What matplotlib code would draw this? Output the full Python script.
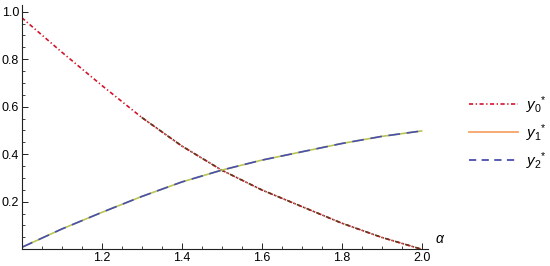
import matplotlib
matplotlib.use("Agg")
import numpy as np
import matplotlib.pyplot as plt
from matplotlib.lines import Line2D
from matplotlib.ticker import MultipleLocator

plt.rcParams['font.family'] = ['Liberation Sans', 'DejaVu Sans']
plt.rcParams['mathtext.fontset'] = 'custom'
plt.rcParams['mathtext.it'] = 'Liberation Sans:italic'
plt.rcParams['mathtext.rm'] = 'Liberation Sans'

# valores
alpha = [1.0, 1.1, 1.2, 1.3, 1.4, 1.5, 1.6, 1.7, 1.8, 1.9, 2.0]
y0 = [0.975, 0.830, 0.690, 0.555, 0.435, 0.333, 0.250, 0.180, 0.110, 0.050, 0.0]
y1 = [0.008, 0.085, 0.155, 0.222, 0.283, 0.333, 0.375, 0.410, 0.445, 0.475, 0.498]
y2 = [0.008, 0.085, 0.155, 0.222, 0.283, 0.333, 0.375, 0.410, 0.445, 0.475, 0.498]
labels = [r'$y_0{}^{*}$', r'$y_1{}^{*}$', r'$y_2{}^{*}$']

vermelho = '#d3142b'
marrom = '#5e3c1c'
laranja = '#f5a468'
verde = '#b9c455'
azul = '#4a4fae'

fig = plt.figure(figsize=(5.5, 2.66), dpi=100)
ax = fig.add_axes([0.0395, 0.063, 0.7387, 0.918])

# y0 (vermelho, depois fica escuro)
ax.plot(alpha, y0, color=vermelho, lw=1.2, dashes=(2.5, 1.5, 0.8, 1.5))
a = np.array(alpha)
m = a >= 1.3
ax.plot(a[m], np.array(y0)[m], color=marrom, lw=1.2, dashes=(2.5, 1.5, 0.8, 1.5))
# y1 e y2 sobrepostos
ax.plot(alpha, y1, color=verde, lw=1.2)
ax.plot(alpha, y2, color=azul, lw=1.2, dashes=(7, 4))

ax.set_xlim(1.0, 2.016)
ax.set_ylim(0, 1.028)
for s in ['top', 'right']:
    ax.spines[s].set_visible(False)
for s in ['left', 'bottom']:
    ax.spines[s].set_linewidth(0.8)
    ax.spines[s].set_color('#222222')

ax.xaxis.set_minor_locator(MultipleLocator(0.05))
ax.yaxis.set_minor_locator(MultipleLocator(0.05))
ax.set_xticks([1.2, 1.4, 1.6, 1.8, 2.0])
ax.set_xticklabels(['1.2', '1.4', '1.6', '1.8', '2.0'])
ax.set_yticks([0.2, 0.4, 0.6, 0.8, 1.0])
ax.set_yticklabels(['0.2', '0.4', '0.6', '0.8', '1.0'])
ax.tick_params(which='major', direction='in', length=4, width=0.7, labelsize=9, pad=2, color='#222222')
ax.tick_params(which='minor', direction='in', length=2.5, width=0.6, color='#222222')

ax.text(2.033, 0.045, r'$\alpha$', fontsize=10, ha='left', va='center')

handles = [Line2D([], [], color=vermelho, lw=1.2, dashes=(2.5, 1.5, 0.8, 1.5)),
           Line2D([], [], color=laranja, lw=1.3),
           Line2D([], [], color=azul, lw=1.3, dashes=(4, 3))]
fig.legend(handles, labels, loc='center left', bbox_to_anchor=(0.842, 0.5),
           frameon=False, fontsize=11, handlelength=3.2, handletextpad=0.5,
           labelspacing=0.42, borderaxespad=0)

plt.savefig('out.png', dpi=100)
